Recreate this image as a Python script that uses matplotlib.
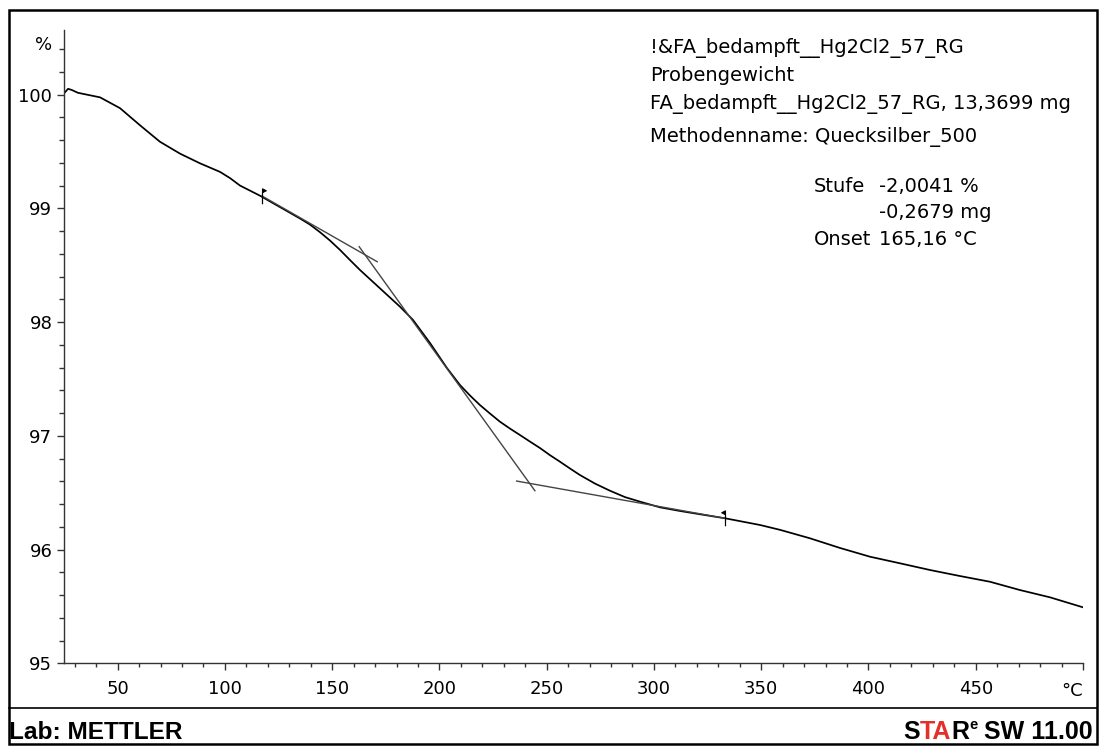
import matplotlib
matplotlib.use("Agg")
import matplotlib.pyplot as plt
from matplotlib.path import Path
from matplotlib.patches import Rectangle
from matplotlib.lines import Line2D
from matplotlib.transforms import IdentityTransform, blended_transform_factory
from matplotlib.ticker import MultipleLocator, FixedLocator, FixedFormatter

# ---------------- data ----------------
temp = [25.0, 26.9, 28.6, 31.5, 41.8, 51.1, 60.4, 69.7, 79.1, 88.4, 97.7, 102.4,
        107.0, 116.4, 125.7, 135.0, 139.7, 144.3, 149.0, 153.7, 158.3, 163.0,
        172.3, 181.6, 187.7, 195.6, 203.5, 209.6, 214.3, 218.9, 223.6, 228.2,
        232.9, 237.6, 242.2, 246.9, 251.5, 256.2, 260.9, 265.5, 272.5, 279.5,
        286.5, 293.5, 302.8, 312.1, 321.5, 333.1, 349.4, 358.8, 372.7, 386.7,
        400.7, 414.7, 428.7, 442.7, 456.6, 470.6, 484.6, 500.0]
mass_pct = [100.01, 100.05, 100.04, 100.015, 99.975, 99.88, 99.73, 99.585, 99.48,
            99.395, 99.32, 99.265, 99.20, 99.11, 99.01, 98.91, 98.856, 98.79,
            98.716, 98.633, 98.545, 98.457, 98.296, 98.135, 98.018, 97.816,
            97.596, 97.446, 97.353, 97.270, 97.195, 97.124, 97.063, 97.006,
            96.949, 96.892, 96.830, 96.772, 96.712, 96.655, 96.580, 96.517,
            96.461, 96.421, 96.371, 96.339, 96.310, 96.275, 96.216, 96.173,
            96.099, 96.014, 95.937, 95.879, 95.820, 95.767, 95.717, 95.644,
            95.580, 95.492]

tan1_x = [117.3, 171.0]
tan1_y = [99.108, 98.530]
tan2_x = [162.6, 244.5]
tan2_y = [98.662, 96.517]
tan3_x = [236.0, 333.1]
tan3_y = [96.602, 96.275]

flag_x = [117.5, 333.1]
flag_y = [99.11, 96.275]

x_major = [50, 100, 150, 200, 250, 300, 350, 400, 450]
x_labels = ["50", "100", "150", "200", "250", "300", "350", "400", "450"]
y_major = [95, 96, 97, 98, 99, 100]
y_labels = ["95", "96", "97", "98", "99", "100"]

header_lines = ["!&FA_bedampft__Hg2Cl2_57_RG", "Probengewicht",
                "FA_bedampft__Hg2Cl2_57_RG, 13,3699 mg",
                "Methodenname: Quecksilber_500"]
result_names = ["Stufe", "", "Onset"]
result_values = ["-2,0041 %", "-0,2679 mg", "165,16 \u00b0C"]

# ---------------- figure ----------------
W, H = 1101, 746
fig = plt.figure(figsize=(W / 100, H / 100), dpi=100)
fig.patch.set_facecolor("white")

def fx(px):
    return px / W

def fy(py):
    return 1 - py / H

ax = fig.add_axes([fx(64), fy(663.3), fx(1083) - fx(64), fy(30) - fy(663.3)])
ax.set_xlim(25, 500)
ax.set_ylim(95, 100.567)
for s in ["top", "right"]:
    ax.spines[s].set_visible(False)
for s in ["left", "bottom"]:
    ax.spines[s].set_color("#333333")
    ax.spines[s].set_linewidth(1.0)

ax.plot(temp, mass_pct, color="black", lw=1.25, solid_joinstyle="round")
for tx, ty in [(tan1_x, tan1_y), (tan2_x, tan2_y), (tan3_x, tan3_y)]:
    ax.plot(tx, ty, color="#444444", lw=1.0)

# flag markers
flag_r = Path([(0, -1), (0, 1), (0.5, 0.75), (0, 0.5), (0, -1)])
flag_l = Path([(0, -1), (0, 1), (-0.5, 0.75), (0, 0.5), (0, -1)])
ax.plot(flag_x[:1], flag_y[:1], ls="none", marker=flag_r, ms=11, mfc="black",
        mec="black", mew=0.8)
ax.plot(flag_x[1:], flag_y[1:], ls="none", marker=flag_l, ms=11, mfc="black",
        mec="black", mew=0.8)

# ticks
ax.xaxis.set_major_locator(FixedLocator(x_major + [500]))
ax.xaxis.set_major_formatter(FixedFormatter(x_labels + [""]))
ax.xaxis.set_minor_locator(MultipleLocator(10))
ax.yaxis.set_major_locator(FixedLocator(y_major))
ax.yaxis.set_major_formatter(FixedFormatter(y_labels))
ax.yaxis.set_minor_locator(MultipleLocator(0.2))
ax.tick_params(axis="x", which="major", length=4.7, width=1, color="#333333",
               pad=7, labelsize=13)
ax.tick_params(axis="x", which="minor", length=3, width=1, color="#333333")
ax.tick_params(axis="y", which="major", length=5.2, width=1, color="#333333",
               pad=3.2, labelsize=13)
ax.tick_params(axis="y", which="minor", length=3.4, width=1, color="#333333")

# unit labels
ax.text(500, fy(696), "\u00b0C",
        transform=blended_transform_factory(ax.transData, fig.transFigure),
        ha="right", va="baseline", fontsize=13)
fig.text(fx(52), fy(50), "%", ha="right", va="baseline", fontsize=13)

# header texts
base_y = [53, 81, 109, 142]
for s, by in zip(header_lines, base_y):
    fig.text(fx(650), fy(by), s, ha="left", va="baseline", fontsize=14)
res_y = [192, 218, 245]
for n, v, by in zip(result_names, result_values, res_y):
    if n:
        fig.text(fx(814), fy(by), n, ha="left", va="baseline", fontsize=14)
    fig.text(fx(879), fy(by), v, ha="left", va="baseline", fontsize=14)

# frame
fig.add_artist(Rectangle((fx(8.5), fy(744)), fx(1097) - fx(8.5), fy(10) - fy(744),
                         transform=fig.transFigure, fill=False, ec="black", lw=1.8))
fig.add_artist(Line2D([fx(8.5), fx(1097)], [fy(708), fy(708)], transform=fig.transFigure,
                      color="black", lw=1.2))

# bottom labels
fig.text(fx(9), fy(739), "Lab: METTLER", ha="left", va="baseline",
         family="Liberation Sans", weight="bold", fontsize=17.6)

r = fig.canvas.get_renderer()
pieces = [(" SW 11.00", "black", 18, 0), ("e", "black", 10.5, 10), ("R", "black", 18, 0),
          ("TA", "#e5302a", 18, 0), ("S", "black", 18, 0)]
xr = 1093
for s, c, fs, dy in pieces:
    t = fig.text(xr, H - 739 + dy, s, ha="right", va="baseline", color=c,
                 family="Liberation Sans", weight="bold", fontsize=fs,
                 transform=IdentityTransform())
    bb = t.get_window_extent(r)
    xr = bb.x0 + (0.5 if s == "e" else 0)

fig.savefig("out.png", dpi=100, facecolor="white")
